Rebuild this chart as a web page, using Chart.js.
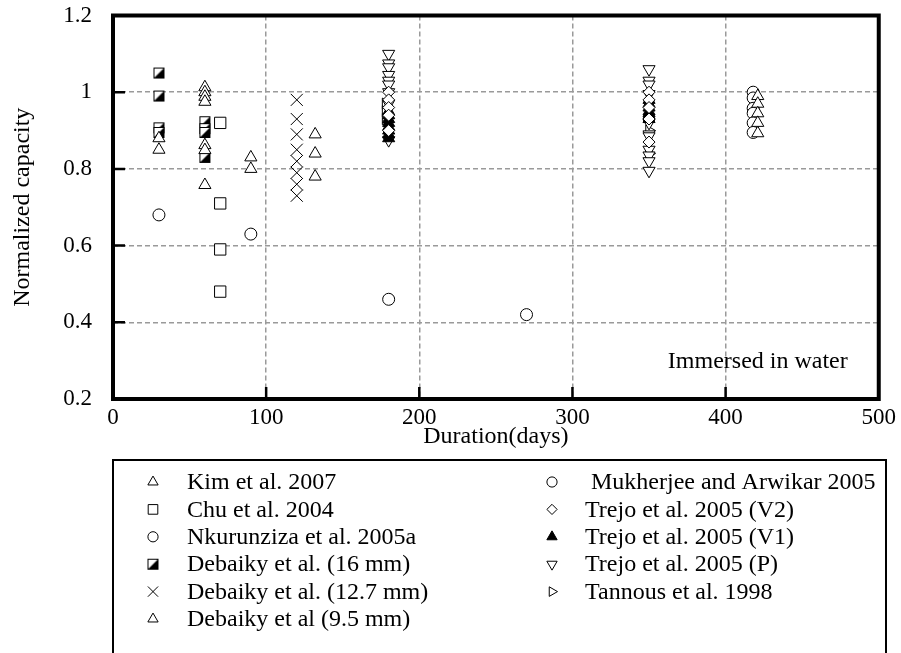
<!DOCTYPE html>
<html>
<head>
<meta charset="utf-8">
<script src="https://cdn.jsdelivr.net/npm/chart.js@4.4.1/dist/chart.umd.min.js"></script>
<style>
    body { margin: 0; background: #fff; }
    #wrap { width: 901px; height: 653px; }
</style>
</head>
<body>
<div id="wrap"><canvas id="capacityChart" width="901" height="653"></canvas></div>
<script>
// axis ticks
var xTicks = [0, 100, 200, 300, 400, 500];
var yTicks = [0.2, 0.4, 0.6, 0.8, 1.0, 1.2];

// [days, normalized capacity] for each study
var kim2007 = [[30, 0.88], [30, 0.85], [60, 1.013], [60, 1.0], [60, 0.988], [60, 0.975], [60, 0.862], [60, 0.849], [60, 0.758],
    [90, 0.83], [90, 0.80], [421, 0.99], [421, 0.97], [421, 0.945], [421, 0.92], [421, 0.893]];
var chu2004 = [[70, 0.92], [70, 0.71], [70, 0.59], [70, 0.48]];
var nkurunziza2005 = [[30, 0.68], [90, 0.63], [180, 0.46], [270, 0.42]];
var debaiky16 = [[30, 1.05], [30, 0.99], [30, 0.907], [30, 0.895], [60, 0.923], [60, 0.905], [60, 0.895], [60, 0.83]];
var debaiky127 = [[120, 0.98], [120, 0.93], [120, 0.89], [120, 0.85], [120, 0.82], [120, 0.79], [120, 0.76], [120, 0.73]];
var debaiky95 = [[132, 0.89], [132, 0.84], [132, 0.78]];
var mukherjee2005 = [[418, 1.0], [418, 0.985], [418, 0.958], [418, 0.945], [418, 0.92], [418, 0.895]];
var trejoV2 = [[180, 1.0], [180, 0.98], [180, 0.96], [180, 0.94], [180, 0.90], [350, 1.0], [350, 0.98], [350, 0.96], [350, 0.93], [350, 0.87]];
var trejoV1 = [[180, 0.95], [180, 0.94], [180, 0.93], [180, 0.92], [180, 0.91], [180, 0.90], [180, 0.89], [180, 0.88],
    [350, 0.98], [350, 0.97], [350, 0.96], [350, 0.95], [350, 0.945], [350, 0.94], [350, 0.93]];
var trejoP = [[180, 1.10], [180, 1.075], [180, 1.065], [180, 1.045], [180, 1.03], [180, 1.02], [180, 1.0], [180, 0.97], [180, 0.875],
    [350, 1.06], [350, 1.03], [350, 1.02], [350, 0.995], [350, 0.92], [350, 0.89], [350, 0.885], [350, 0.85], [350, 0.835], [350, 0.82], [350, 0.795]];
var tannous1998 = [[178, 0.97], [178, 0.95], [178, 0.93], [350, 0.90], [350, 0.84]];

var serif = '"Liberation Serif", "Times New Roman", serif';
Chart.defaults.font.family = serif;
Chart.defaults.color = '#000';

function pts(arr) {
    return arr.map(function (p) { return { x: p[0], y: p[1] }; });
}

// square with its lower-right half filled
function halfSquare() {
    var c = document.createElement('canvas');
    c.width = 13; c.height = 13;
    var g = c.getContext('2d');
    g.fillStyle = '#fff';
    g.fillRect(1, 1, 11, 11);
    g.fillStyle = '#000';
    g.beginPath();
    g.moveTo(1, 12); g.lineTo(12, 1); g.lineTo(12, 12); g.closePath();
    g.fill();
    g.strokeStyle = '#000';
    g.lineWidth = 1;
    g.strokeRect(1.5, 1.5, 10, 10);
    return c;
}

function series(label, data, style, radius, opts) {
    var ds = {
        label: label,
        data: pts(data),
        pointStyle: style,
        pointRadius: radius,
        pointHoverRadius: radius,
        pointBorderWidth: 1,
        pointBorderColor: '#000',
        pointBackgroundColor: '#fff',
        pointRotation: 0,
        showLine: false
    };
    for (var k in opts || {}) ds[k] = opts[k];
    return ds;
}

var datasets = [
    series('Kim et al. 2007', kim2007, 'triangle', 7),
    series('Chu et al. 2004', chu2004, 'rect', 8),
    series('Nkurunziza et al. 2005a', nkurunziza2005, 'circle', 6),
    series('Debaiky et al. (16 mm)', debaiky16, halfSquare(), 6),
    series('Debaiky et al. (12.7 mm)', debaiky127, 'crossRot', 8.5),
    series('Debaiky et al (9.5 mm)', debaiky95, 'triangle', 7),
    series(' Mukherjee and Arwikar 2005', mukherjee2005, 'circle', 6),
    series('Trejo et al. 2005 (V2)', trejoV2, 'rectRot', 6),
    series('Trejo et al. 2005 (V1)', trejoV1, 'triangle', 7, { pointBackgroundColor: '#000' }),
    series('Trejo et al. 2005 (P)', trejoP, 'triangle', 7, { pointRotation: 180 }),
    series('Tannous et al. 1998', tannous1998, 'triangle', 6.5, { pointRotation: 90 })
];

// frame, inward ticks, note and the boxed legend underneath
var decorations = {
    id: 'decorations',
    afterDraw: function (chart) {
        var ctx = chart.ctx;
        var a = chart.chartArea;
        var xs = chart.scales.x, ys = chart.scales.y;
        ctx.save();
        ctx.strokeStyle = '#000';
        ctx.lineWidth = 2.5;
        ctx.beginPath();
        xTicks.forEach(function (v) {
            var px = xs.getPixelForValue(v);
            ctx.moveTo(px, a.bottom); ctx.lineTo(px, a.bottom - 12);
        });
        yTicks.forEach(function (v) {
            var py = ys.getPixelForValue(v);
            ctx.moveTo(a.left, py); ctx.lineTo(a.left + 12, py);
        });
        ctx.stroke();
        ctx.lineWidth = 4;
        ctx.strokeRect(a.left, a.top, a.right - a.left, a.bottom - a.top);

        ctx.fillStyle = '#000';
        ctx.font = '24px ' + serif;
        ctx.textAlign = 'right';
        ctx.textBaseline = 'middle';
        ctx.fillText('Immersed in water', a.right - 31, a.bottom - 37);

        // legend
        ctx.lineWidth = 2;
        ctx.strokeRect(a.left, 460, 773, 240);
        ctx.textAlign = 'left';
        chart.data.datasets.forEach(function (ds, i) {
            var col = i < 6 ? 0 : 1;
            var row = i < 6 ? i : i - 6;
            var mx = col === 0 ? 153 : 552;
            var tx = col === 0 ? 187 : 585;
            var y = 482 + row * 27.4;
            ctx.fillStyle = ds.pointBackgroundColor;
            ctx.strokeStyle = '#000';
            ctx.lineWidth = 1;
            Chart.helpers.drawPoint(ctx, {
                pointStyle: ds.pointStyle,
                rotation: ds.pointRotation,
                radius: ds.pointRadius * 0.85,
                borderWidth: 1
            }, mx, y);
            ctx.fillStyle = '#000';
            ctx.fillText(ds.label, tx, y + 1);
        });
        ctx.restore();
    }
};

var ctx = document.getElementById('capacityChart').getContext('2d');
var capacityChart = new Chart(ctx, {
    type: 'scatter',
    data: { datasets: datasets },
    options: {
        responsive: false,
        animation: false,
        layout: { padding: { left: 0, right: 22, top: 15.5, bottom: 202 } },
        plugins: {
            legend: { display: false },
            tooltip: { enabled: false }
        },
        scales: {
            x: {
                type: 'linear',
                min: xTicks[0],
                max: xTicks[xTicks.length - 1],
                afterFit: function (s) { s.height = 52; },
                afterBuildTicks: function (s) { s.ticks = xTicks.map(function (v) { return { value: v }; }); },
                ticks: { font: { size: 23 }, padding: 5, maxRotation: 0 },
                grid: { color: '#9a9a9a', lineWidth: 1.5, drawTicks: false },
                border: { display: false, dash: [5, 3] },
                title: { display: true, text: 'Duration(days)', font: { size: 24 }, padding: 0 }
            },
            y: {
                type: 'linear',
                min: yTicks[0],
                max: yTicks[yTicks.length - 1],
                // fixed width; label overhang is covered by the layout padding
                afterFit: function (s) { s.width = 113; s.paddingTop = 0; s.paddingBottom = 0; },
                afterBuildTicks: function (s) { s.ticks = yTicks.map(function (v) { return { value: v }; }); },
                ticks: {
                    font: { size: 23 },
                    padding: 21,
                    callback: function (v) { return String(Number(v.toFixed(1))); }
                },
                grid: { color: '#9a9a9a', lineWidth: 1.5, drawTicks: false },
                border: { display: false, dash: [5, 3] },
                title: { display: true, text: 'Normalized capacity', font: { size: 24 }, padding: { top: 8, bottom: 0 } }
            }
        }
    },
    plugins: [decorations]
});
</script>
</body>
</html>
